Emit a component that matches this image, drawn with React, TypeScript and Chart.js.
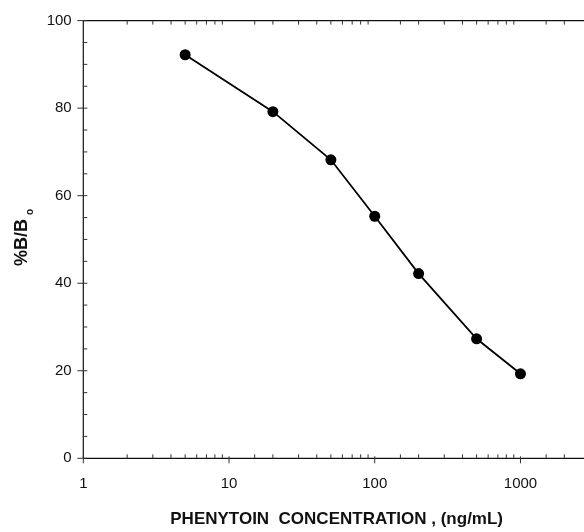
import React, { useEffect, useRef } from "react";
import { Chart, registerables } from "chart.js";

Chart.register(...registerables);

// ---- data ----
const concentrations = [5, 20, 50, 100, 200, 500, 1000];
const percentBound = [92.2, 79.2, 68.2, 55.3, 42.2, 27.3, 19.3];
const xTickLabels = [1, 10, 100, 1000];
const yTickLabels = [0, 20, 40, 60, 80, 100];
const xTitle = "PHENYTOIN  CONCENTRATION , (ng/mL)";
const yTitleMain = "%B/B";
const yTitleSub = "o";

const FONT = '"Liberation Sans", Arial, Helvetica, sans-serif';

const axesPlugin = {
  id: "customAxes",
  afterDraw(chart: any) {
    const { ctx, chartArea, scales } = chart;
    const xs = scales.x;
    const ys = scales.y;
    const L = chartArea.left;
    const R = chartArea.right;
    const T = chartArea.top;
    const B = chartArea.bottom;
    ctx.save();
    ctx.strokeStyle = "#111";
    ctx.lineWidth = 1.2;
    ctx.beginPath();
    ctx.moveTo(L, T);
    ctx.lineTo(L, B);
    ctx.moveTo(L, B);
    ctx.lineTo(R, B);
    ctx.moveTo(L, T);
    ctx.lineTo(R, T);
    ctx.stroke();

    ctx.lineWidth = 1;
    ctx.strokeStyle = "#333";
    ctx.beginPath();
    xs.ticks.forEach((t: any) => {
      const px = xs.getPixelForValue(t.value);
      if (xTickLabels.includes(t.value)) {
        ctx.moveTo(px, B - 2);
        ctx.lineTo(px, B + 5);
      } else {
        ctx.moveTo(px, B);
        ctx.lineTo(px, B - 4);
        ctx.moveTo(px, T);
        ctx.lineTo(px, T + 4);
      }
    });
    ys.ticks.forEach((t: any) => {
      const py = ys.getPixelForValue(t.value);
      if (yTickLabels.includes(t.value)) {
        ctx.moveTo(L - 6, py);
        ctx.lineTo(L + 4, py);
      } else {
        ctx.moveTo(L, py);
        ctx.lineTo(L + 4, py);
      }
    });
    ctx.stroke();

    // y title with subscript
    ctx.fillStyle = "#111";
    ctx.translate(27, 266);
    ctx.rotate(-Math.PI / 2);
    ctx.textAlign = "left";
    ctx.textBaseline = "alphabetic";
    ctx.font = `bold 18px ${FONT}`;
    ctx.fillText(yTitleMain, 0, 0);
    const w = ctx.measureText(yTitleMain).width;
    ctx.font = `bold 10px ${FONT}`;
    ctx.fillText(yTitleSub, w + 4, 6);
    ctx.restore();
  },
};

export default function App() {
  const ref = useRef<HTMLCanvasElement | null>(null);

  useEffect(() => {
    if (!ref.current) return;
    Chart.defaults.font.family = FONT;
    const chart = new Chart(ref.current, {
      type: "line",
      data: {
        datasets: [
          {
            data: concentrations.map((c, i) => ({ x: c, y: percentBound[i] })),
            borderColor: "#000",
            backgroundColor: "#000",
            borderWidth: 1.8,
            pointRadius: 5.5,
            pointBackgroundColor: "#000",
            pointBorderColor: "#000",
            pointBorderWidth: 0,
            tension: 0,
          },
        ],
      },
      options: {
        animation: false,
        responsive: true,
        maintainAspectRatio: false,
        layout: { padding: { left: 0, top: 17, right: 0, bottom: 0 } },
        plugins: {
          legend: { display: false },
          tooltip: { enabled: false },
        },
        scales: {
          x: {
            type: "logarithmic",
            min: 1,
            max: 3000,
            grid: { display: false, drawTicks: false },
            border: { display: false },
            afterFit: (scale: any) => {
              scale.height = 73.7;
            },
            ticks: {
              autoSkip: false,
              maxRotation: 0,
              padding: 17,
              color: "#111",
              font: { size: 15 },
              callback: (v: any) => (xTickLabels.includes(Number(v)) ? String(v) : ""),
            },
            title: {
              display: true,
              text: xTitle,
              color: "#111",
              font: { size: 17, weight: "bold" },
              padding: { top: 0, bottom: 2 },
            },
          },
          y: {
            type: "linear",
            min: 0,
            max: 100,
            grid: { display: false, drawTicks: false },
            border: { display: false },
            afterFit: (scale: any) => {
              scale.width = 83.3;
            },
            ticks: {
              stepSize: 5,
              padding: 11.6,
              color: "#111",
              font: { size: 15 },
              callback: (v: any) => (yTickLabels.includes(Number(v)) ? String(v) : ""),
            },
          },
        },
      },
      plugins: [axesPlugin],
    });
    return () => chart.destroy();
  }, []);

  return (
    <div
      style={{
        position: "absolute",
        left: 0,
        top: 0,
        width: 584,
        height: 532,
        overflow: "hidden",
        background: "#fff",
      }}
    >
      <div style={{ position: "relative", width: 607, height: 532 }}>
        <canvas ref={ref} />
      </div>
    </div>
  );
}
